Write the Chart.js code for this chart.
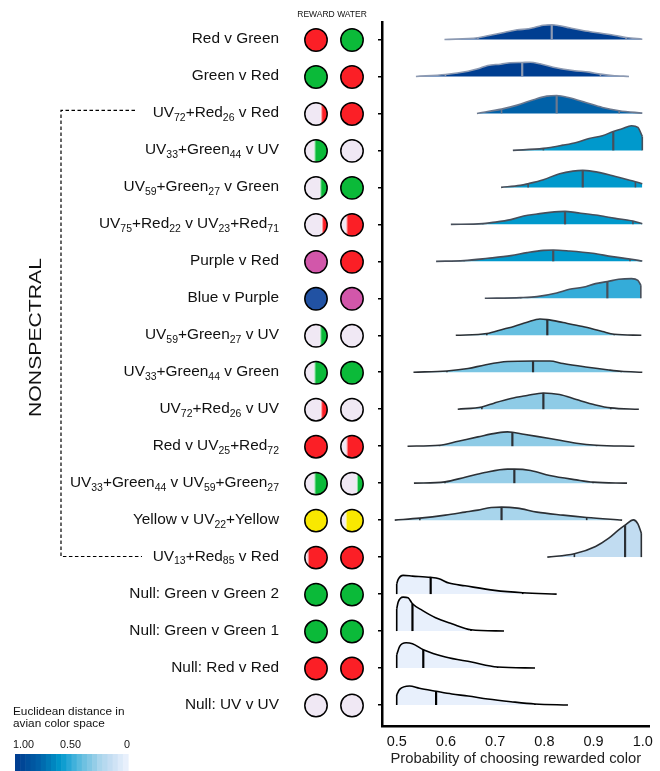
<!DOCTYPE html>
<html><head><meta charset="utf-8">
<script src="https://cdn.jsdelivr.net/npm/chart.js@4"></script>
<style>html,body{margin:0;padding:0;background:#fff}#wrap{width:660px;height:771px;position:relative}</style>
</head><body><div id="wrap"><canvas id="c" width="660" height="771"></canvas></div>
<script>
// ---------------- DATA ----------------
const rowLabels = [
  "Red v Green", "Green v Red", "UV_{72}+Red_{26} v Red", "UV_{33}+Green_{44} v UV",
  "UV_{59}+Green_{27} v Green", "UV_{75}+Red_{22} v UV_{23}+Red_{71}", "Purple v Red", "Blue v Purple",
  "UV_{59}+Green_{27} v UV", "UV_{33}+Green_{44} v Green", "UV_{72}+Red_{26} v UV", "Red v UV_{25}+Red_{72}",
  "UV_{33}+Green_{44} v UV_{59}+Green_{27}", "Yellow v UV_{22}+Yellow", "UV_{13}+Red_{85} v Red",
  "Null: Green v Green 2", "Null: Green v Green 1", "Null: Red v Red", "Null: UV v UV"
];
// stimulus: [colour, fraction of colour mixed into UV (omitted = pure)]
const rewardStim = [["red"],["green"],["red",0.27],["green",0.57],["green",0.31],["red",0.23],["purple"],["blue"],
  ["green",0.31],["green",0.57],["red",0.27],["red"],["green",0.57],["yellow"],["red",0.87],["green"],["green"],["red"],["uv"]];
const waterStim = [["green"],["red"],["red"],["uv"],["green"],["red",0.75],["red"],["purple"],
  ["uv"],["green"],["uv"],["red",0.74],["green",0.28],["yellow",0.78],["red"],["green"],["green"],["red"],["uv"]];
// Euclidean distance in avian colour space
const distance = [1.0,1.0,0.8,0.6,0.6,0.6,0.6,0.5,0.4,0.35,0.3,0.3,0.28,0.24,0.15,0,0,0,0];
// posterior densities (x = probability, d = relative density)
const densX = [
  [0.597,0.665,0.685,0.718,0.745,0.768,0.785,0.798,0.815,0.831,0.851,0.878,0.918,0.944,0.966,0.999],
  [0.539,0.599,0.645,0.665,0.685,0.711,0.731,0.755,0.771,0.791,0.818,0.858,0.891,0.914,0.938,0.972],
  [0.663,0.713,0.745,0.778,0.805,0.825,0.851,0.884,0.918,0.952,0.999],
  [0.736,0.798,0.838,0.865,0.891,0.918,0.940,0.958,0.977,0.990,0.999],
  [0.712,0.751,0.767,0.798,0.831,0.858,0.878,0.898,0.931,0.964,0.985,0.999],
  [0.610,0.675,0.692,0.732,0.758,0.785,0.811,0.842,0.865,0.904,0.944,0.980,0.999],
  [0.580,0.637,0.685,0.732,0.765,0.798,0.818,0.851,0.898,0.938,0.974,0.999],
  [0.679,0.752,0.785,0.825,0.851,0.878,0.904,0.928,0.951,0.977,0.990,0.996],
  [0.620,0.683,0.718,0.738,0.765,0.791,0.806,0.838,0.878,0.918,0.942,0.997],
  [0.534,0.602,0.645,0.679,0.725,0.777,0.811,0.838,0.884,0.931,0.956,0.999],
  [0.624,0.673,0.699,0.732,0.765,0.798,0.831,0.865,0.904,0.935,0.992],
  [0.522,0.587,0.625,0.665,0.705,0.725,0.735,0.758,0.811,0.865,0.906,0.983],
  [0.535,0.598,0.639,0.679,0.725,0.739,0.772,0.811,0.865,0.899,0.968],
  [0.496,0.547,0.599,0.639,0.665,0.692,0.713,0.745,0.785,0.838,0.886,0.958],
  [0.806,0.861,0.904,0.931,0.951,0.964,0.981,0.990,0.997],
  [0.500,0.503,0.513,0.532,0.569,0.586,0.606,0.639,0.699,0.756,0.825],
  [0.500,0.503,0.513,0.523,0.532,0.552,0.579,0.612,0.651,0.718],
  [0.500,0.506,0.519,0.532,0.554,0.599,0.652,0.705,0.781],
  [0.500,0.506,0.526,0.546,0.580,0.612,0.645,0.685,0.732,0.781,0.848]
];
const densY = [
  [0,1.7,3.7,7,9.7,10.7,12.7,14.3,14.7,13.7,11.7,9,6,4,2,0.3],
  [0,2,5.3,7.7,11,12.3,13.7,14,14.2,12.7,9.3,6,4.3,2.3,1,0],
  [0,4.3,8.3,13.7,17.3,18,15.7,11,6,2.7,0.3],
  [0,2,5.3,8,12,14.7,19,21.7,24.7,23,14],
  [0,2,3.7,7.7,13.7,16.3,17,16,12.7,8.3,5.7,3.7],
  [0,0.7,1.7,4.7,8.3,10.3,12,13,11.7,9.3,6,3.3,0.7],
  [0,0.7,3,5.7,8.7,11,11.3,10.3,8,4.7,2.3,0.3],
  [0,0.7,1.7,5.3,9,11,14.7,16.7,19,19.7,18,13],
  [0,1.7,6.3,8.7,13,16.3,15.7,12.7,8.7,3.7,1,0],
  [0,1.3,3.7,7.3,10.7,11.3,11.3,8.7,5.3,2.3,1,0],
  [0,2.3,6.3,10.7,13.7,16.3,14.7,9.7,4.3,1.3,0],
  [0,1,5,9.3,13.3,14.3,14,12,7.7,3,1,0],
  [0,1.3,6,10.7,14,14,12.7,7.7,3.3,1,0],
  [0,2,5,8,10,12.7,13,12,8,5,2.7,0],
  [0,3.3,10.7,19,27.3,32,37.3,33.3,24],
  [10.3,14.7,18.7,18,16.7,15.3,11,8.3,3.7,1.3,0],
  [22.3,29,34,33.3,27.3,20.7,13.3,7.3,1.3,0],
  [13.3,21.7,25.3,24.3,18.3,11,6,1,0],
  [10,15.7,19,16.7,13.7,11,9,6,3.3,1,0]
];
// 2.5%, median, 97.5%
const quantiles = [
  [0.665,0.815,0.966],[0.599,0.755,0.914],[0.713,0.825,0.952],[0.798,0.940,0.999],
  [0.767,0.878,0.985],[0.675,0.842,0.980],[0.637,0.818,0.974],[0.752,0.928,0.996],
  [0.683,0.806,0.942],[0.602,0.777,0.956],[0.673,0.798,0.935],[0.587,0.735,0.906],
  [0.598,0.739,0.899],[0.547,0.713,0.886],[0.861,0.964,0.997],[0.500,0.569,0.756],
  [0.500,0.532,0.651],[0.500,0.554,0.705],[0.500,0.580,0.781]
];
const xTicks = [0.5,0.6,0.7,0.8,0.9,1.0];
const legendTicks = [1.00, 0.50, 0];

// ---------------- STYLE ----------------
const FONT = "'Liberation Sans', Arial, Helvetica, sans-serif";
Chart.defaults.font.family = FONT;
const PAL = {red:'#fb1f26', green:'#0bba39', uv:'#f0e8f4', purple:'#d257aa', blue:'#2152a3', yellow:'#f9e800'};
const DENS_PER_ROW = 37;
const N = rowLabels.length;
const rowBase = i => N - 1 - i;

const CSTOPS = [[0,[232,240,252]],[0.15,[193,220,241]],[0.24,[168,213,236]],[0.3,[142,203,230]],[0.4,[102,191,224]],
  [0.5,[52,172,217]],[0.6,[0,153,204]],[0.8,[0,97,168]],[1.0,[0,62,145]]];
function cmap(d){
  for(let k=1;k<CSTOPS.length;k++){
    if(d<=CSTOPS[k][0]){
      const [a,ca]=CSTOPS[k-1],[b,cb]=CSTOPS[k];
      const t=(d-a)/(b-a);
      return 'rgb('+ca.map((c,j)=>Math.round(c+(cb[j]-c)*t)).join(',')+')';
    }
  }
  return 'rgb(0,62,145)';
}
function outline(d){
  if(d>=0.9) return '#8d9ab2';
  if(d>=0.75) return '#6c798f';
  if(d>=0.45) return '#474f5b';
  if(d>0) return '#2c3035';
  return '#000';
}
function interp(xs, ys, q){
  if(q<=xs[0]) return ys[0];
  for(let j=1;j<xs.length;j++){
    if(q<=xs[j]){ const t=(q-xs[j-1])/(xs[j]-xs[j-1]); return ys[j-1]+(ys[j]-ys[j-1])*t; }
  }
  return ys[ys.length-1];
}

const datasets = densX.map((xs,i)=>{
  const b = rowBase(i);
  return {
    data: xs.map((x,j)=>({x:x, y:b + densY[i][j]/DENS_PER_ROW})),
    fill: {value: b},
    backgroundColor: cmap(distance[i]),
    borderColor: outline(distance[i]),
    borderWidth: 1.6,
    pointRadius: 0,
    cubicInterpolationMode: 'monotone'
  };
});

function drawRich(ctx, str, xRight, yBase, size){
  const parts = [];
  const re = /_\{([^}]*)\}/g; let last=0, m;
  while((m=re.exec(str))){ if(m.index>last) parts.push([str.slice(last,m.index),false]); parts.push([m[1],true]); last=re.lastIndex; }
  if(last<str.length) parts.push([str.slice(last),false]);
  const subSize = size*0.68;
  let w=0;
  parts.forEach(p=>{ ctx.font=(p[1]?subSize:size)+'px '+FONT; p.push(ctx.measureText(p[0]).width); w+=p[2]; });
  let x = xRight - w;
  ctx.textAlign='left'; ctx.textBaseline='alphabetic';
  parts.forEach(p=>{ ctx.font=(p[1]?subSize:size)+'px '+FONT; ctx.fillText(p[0], x, yBase + (p[1]?size*0.22:0)); x+=p[2]; });
}
function drawStim(ctx, cx, cy, r, stim){
  const [name, frac] = stim;
  ctx.save();
  ctx.beginPath(); ctx.arc(cx, cy, r, 0, Math.PI*2);
  ctx.save(); ctx.clip();
  if(frac===undefined){ ctx.fillStyle=PAL[name]; ctx.fillRect(cx-r-1,cy-r-1,2*r+2,2*r+2); }
  else {
    ctx.fillStyle=PAL.uv; ctx.fillRect(cx-r-1,cy-r-1,2*r+2,2*r+2);
    const xb = cx + r - 2*r*frac;
    ctx.fillStyle=PAL[name]; ctx.fillRect(xb,cy-r-1,cx+r+1-xb,2*r+2);
    ctx.fillStyle='rgba(255,255,255,0.55)'; ctx.fillRect(xb-0.5,cy-r-1,1.6,2*r+2);
  }
  ctx.restore();
  ctx.lineWidth=1.5; ctx.strokeStyle='#000'; ctx.stroke();
  ctx.restore();
}

const quantPlugin = {
  id:'quant',
  afterDatasetsDraw(chart){
    const {ctx, scales:{x,y}} = chart;
    ctx.save();
    quantiles.forEach((qs,i)=>{
      const b = rowBase(i);
      qs.forEach((q,k)=>{
        const h = interp(densX[i], densY[i], q)/DENS_PER_ROW;
        const px = x.getPixelForValue(q);
        ctx.beginPath();
        ctx.moveTo(px, y.getPixelForValue(b));
        ctx.lineTo(px, y.getPixelForValue(b+h));
        ctx.lineWidth = k===1 ? 2.2 : 1.6;
        ctx.strokeStyle = outline(distance[i]);
        ctx.stroke();
      });
    });
    ctx.restore();
  }
};

const sidePlugin = {
  id:'side',
  afterDraw(chart){
    const {ctx, scales:{y}} = chart;
    ctx.save();
    ctx.fillStyle='#111';
    // header
    ctx.font='8.5px '+FONT; ctx.textAlign='center'; ctx.textBaseline='alphabetic';
    ctx.fillText('REWARD', 316, 17); ctx.fillText('WATER', 352, 17);
    rowLabels.forEach((lab,i)=>{
      const py = y.getPixelForValue(rowBase(i));
      ctx.fillStyle='#111';
      drawRich(ctx, lab, 279, py+4, 15.4);
      drawStim(ctx, 316, py+0.5, 11.2, rewardStim[i]);
      drawStim(ctx, 352, py+0.5, 11.2, waterStim[i]);
    });
    // bracket
    const yTop = y.getPixelForValue(rowBase(2)) - 3;
    const yBot = y.getPixelForValue(rowBase(14)) - 0.6;
    ctx.beginPath(); ctx.setLineDash([3.5,2.5]); ctx.lineWidth=1.2; ctx.strokeStyle='#000';
    ctx.moveTo(135,yTop); ctx.lineTo(61,yTop); ctx.lineTo(61,yBot); ctx.lineTo(142,yBot); ctx.stroke();
    ctx.setLineDash([]);
    // NONSPECTRAL
    ctx.save();
    ctx.translate(41, (yTop+yBot)/2 + 4);
    ctx.rotate(-Math.PI/2);
    ctx.font='17px '+FONT;
    const w = ctx.measureText('NONSPECTRAL').width;
    ctx.scale(159/w, 1);
    ctx.textAlign='center'; ctx.textBaseline='alphabetic'; ctx.fillStyle='#111';
    ctx.fillText('NONSPECTRAL', 0, 0);
    ctx.restore();
    // legend
    ctx.fillStyle='#111'; ctx.textAlign='left'; ctx.textBaseline='alphabetic';
    ctx.font='11.8px '+FONT;
    ctx.fillText('Euclidean distance in', 13, 714.5);
    ctx.fillText('avian color space', 13, 727);
    ctx.font='10.8px '+FONT; ctx.textAlign='center';
    const bx0=15, bx1=128, by0=754, by1=771;
    legendTicks.forEach(v=>{
      const lbl = v===0 ? '0' : v.toFixed(2);
      const px = bx0 + (1-v)*(bx1-bx0);
      ctx.textAlign = v===1 ? 'left' : (v===0 ? 'right':'center');
      ctx.fillText(lbl, v===1 ? 13 : (v===0 ? 130 : px-1), 747.5);
    });
    const nb = 22;
    for(let k=0;k<nb;k++){
      const d = 1 - k/(nb-1);
      ctx.fillStyle = cmap(d);
      ctx.fillRect(bx0 + k*(bx1-bx0)/nb, by0, (bx1-bx0)/nb+0.6, by1-by0);
    }
    ctx.restore();
  }
};

new Chart(document.getElementById('c'), {
  type:'line',
  data:{datasets},
  options:{
    responsive:false, animation:false, events:[],
    layout:{padding:{left:378, top:22, right:5, bottom:0}},
    plugins:{legend:{display:false}, tooltip:{enabled:false}},
    scales:{
      x:{type:'linear', min:0.4701, max:1.0139,
        afterBuildTicks:s=>{ s.ticks = xTicks.map(v=>({value:v})); },
        afterFit:s=>{ s.height = 45; },
        grid:{display:false, drawTicks:false},
        border:{display:true, color:'#000', width:2.5},
        ticks:{font:{size:14.5}, color:'#111', padding:7, maxRotation:0, autoSkip:false, callback:v=>Number(v).toFixed(1)},
        title:{display:true, text:'Probability of choosing rewarded color', font:{size:14.8}, color:'#222', padding:{top:0,bottom:3}}
      },
      y:{type:'linear', min:-0.568, max:18.473,
        afterBuildTicks:s=>{ s.ticks = rowLabels.map((_,i)=>({value:rowBase(i)})); },
        afterFit:s=>{ s.width = 4; },
        grid:{display:true, drawOnChartArea:false, drawTicks:true, tickLength:4, color:'#000', lineWidth:1.5},
        border:{display:true, color:'#000', width:2.5},
        ticks:{display:false}
      }
    }
  },
  plugins:[quantPlugin, sidePlugin]
});
</script></body></html>
